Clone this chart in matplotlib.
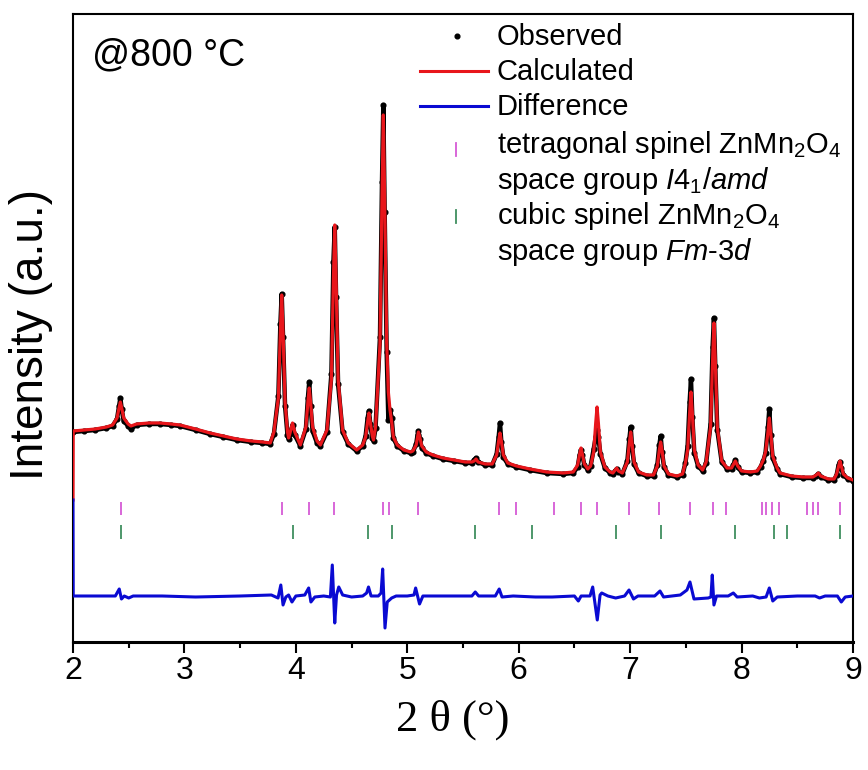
import matplotlib
matplotlib.use('Agg')
import matplotlib.pyplot as plt
from matplotlib.lines import Line2D
from matplotlib.ticker import MultipleLocator

# Rietveld fit of ZnMn2O4 at 800 C (intensity in a.u.)

# calculated profile (2theta, intensity)
calc_pts = [
    (2.000, 142), (2.002, 211), (2.10, 212), (2.20, 213), (2.30, 215), (2.355, 217),
    (2.395, 224), (2.413, 234), (2.425, 240), (2.437, 234), (2.455, 224), (2.495, 218),
    (2.52, 216), (2.57, 218), (2.68, 219), (2.78, 219), (2.88, 218), (2.96, 217),
    (3.10, 213), (3.23, 209), (3.35, 206), (3.47, 203), (3.60, 201), (3.70, 200), (3.77, 199),
    (3.803, 210), (3.843, 244), (3.861, 310), (3.873, 347), (3.885, 310), (3.903, 240),
    (3.925, 210), (3.935, 204), (3.95, 210), (3.97, 219), (3.99, 210), (4.04, 197),
    (4.09, 215), (4.108, 240), (4.12, 254), (4.132, 240), (4.15, 215), (4.19, 201), (4.22, 197),
    (4.279, 212), (4.319, 263), (4.337, 362), (4.349, 417), (4.361, 362), (4.379, 263),
    (4.419, 212), (4.47, 199), (4.546, 192),
    (4.60, 197), (4.626, 205), (4.644, 220), (4.656, 229), (4.668, 220), (4.686, 206), (4.697, 202),
    (4.715, 215), (4.755, 298), (4.773, 445), (4.785, 527), (4.797, 445), (4.815, 300),
    (4.83, 250), (4.845, 232), (4.86, 220), (4.875, 205), (4.91, 197), (4.97, 192), (5.03, 190),
    (5.05, 191), (5.08, 197), (5.092, 205), (5.10, 210), (5.112, 205), (5.13, 196), (5.17, 190),
    (5.23, 187), (5.32, 184), (5.42, 182), (5.52, 180), (5.58, 180),
    (5.60, 181), (5.617, 183), (5.635, 180), (5.70, 178), (5.762, 178),
    (5.802, 187), (5.82, 201), (5.832, 209), (5.844, 201), (5.862, 187), (5.902, 179),
    (5.98, 176), (6.10, 173), (6.25, 170), (6.40, 169), (6.489, 170),
    (6.529, 177), (6.547, 188), (6.559, 194), (6.571, 188), (6.589, 178), (6.62, 173),
    (6.645, 176), (6.673, 190), (6.691, 219), (6.703, 235), (6.715, 219), (6.733, 190),
    (6.773, 175), (6.82, 170),
    (6.845, 169), (6.865, 172), (6.879, 174), (6.895, 171), (6.93, 169),
    (6.975, 180), (6.993, 199), (7.005, 210), (7.017, 199), (7.035, 180), (7.075, 170),
    (7.15, 167), (7.21, 167),
    (7.244, 176), (7.262, 192), (7.274, 200), (7.286, 192), (7.304, 176), (7.344, 168),
    (7.42, 166), (7.47, 168), (7.496, 179),
    (7.516, 192), (7.534, 229), (7.546, 250), (7.558, 229), (7.576, 192), (7.61, 177), (7.65, 172),
    (7.682, 180), (7.722, 215), (7.74, 282), (7.752, 319), (7.764, 282), (7.782, 215),
    (7.822, 181), (7.87, 174), (7.91, 174),
    (7.925, 177), (7.944, 181), (7.965, 176), (8.00, 171), (8.08, 170), (8.14, 171),
    (8.17, 176), (8.195, 182), (8.215, 190), (8.237, 210), (8.249, 224), (8.261, 210),
    (8.279, 186), (8.319, 174), (8.345, 169),
    (8.45, 166), (8.55, 165), (8.64, 165), (8.67, 167), (8.689, 169), (8.71, 166), (8.78, 163), (8.83, 163),
    (8.853, 168), (8.871, 176), (8.883, 181), (8.895, 176), (8.913, 168), (8.953, 164), (9.00, 162),
]

# observed points
obs_pts = [
    (2.002, 210), (2.10, 211), (2.20, 212), (2.30, 214), (2.355, 216),
    (2.395, 223), (2.413, 236), (2.425, 244), (2.437, 233), (2.455, 221), (2.495, 216),
    (2.52, 213), (2.57, 217), (2.68, 218), (2.78, 218), (2.88, 217), (2.96, 216),
    (3.10, 212), (3.23, 208), (3.35, 205), (3.47, 202), (3.60, 200), (3.70, 199), (3.77, 198),
    (3.803, 208), (3.843, 246), (3.861, 318), (3.873, 348), (3.885, 305), (3.903, 236),
    (3.925, 207), (3.935, 203), (3.95, 208), (3.97, 217), (3.99, 207), (4.04, 196),
    (4.09, 213), (4.108, 244), (4.12, 260), (4.132, 236), (4.15, 211), (4.19, 199), (4.22, 196),
    (4.279, 210), (4.319, 268), (4.337, 380), (4.349, 415), (4.361, 345), (4.379, 258),
    (4.419, 210), (4.47, 198), (4.546, 191),
    (4.60, 196), (4.626, 206), (4.644, 224), (4.656, 231), (4.668, 218), (4.686, 204), (4.697, 201),
    (4.715, 214), (4.755, 305), (4.773, 460), (4.785, 537), (4.797, 430), (4.815, 290),
    (4.83, 222), (4.845, 232), (4.86, 224), (4.875, 204), (4.91, 196), (4.97, 191), (5.03, 189),
    (5.05, 190), (5.08, 198), (5.092, 207), (5.10, 211), (5.112, 203), (5.13, 194), (5.17, 189),
    (5.23, 186), (5.32, 183), (5.42, 181), (5.52, 179), (5.58, 179),
    (5.60, 182), (5.617, 184), (5.635, 180), (5.70, 177), (5.762, 177),
    (5.802, 188), (5.82, 205), (5.832, 219), (5.844, 200), (5.862, 185), (5.902, 178),
    (5.98, 175), (6.10, 172), (6.25, 169), (6.40, 168), (6.489, 169),
    (6.529, 175), (6.547, 187), (6.559, 192), (6.571, 187), (6.589, 177), (6.62, 172),
    (6.645, 176), (6.673, 193), (6.691, 205), (6.703, 212), (6.715, 205), (6.733, 188),
    (6.773, 174), (6.82, 169),
    (6.845, 168), (6.865, 171), (6.879, 173), (6.895, 170), (6.93, 168),
    (6.975, 181), (6.993, 203), (7.005, 215), (7.017, 196), (7.035, 178), (7.075, 169),
    (7.15, 166), (7.21, 166),
    (7.244, 177), (7.262, 197), (7.274, 206), (7.286, 190), (7.304, 175), (7.344, 167),
    (7.42, 165), (7.47, 167), (7.496, 179),
    (7.516, 196), (7.534, 240), (7.546, 263), (7.558, 225), (7.576, 189), (7.61, 176), (7.65, 171),
    (7.682, 179), (7.722, 218), (7.74, 295), (7.752, 324), (7.764, 276), (7.782, 212),
    (7.822, 180), (7.87, 173), (7.91, 173),
    (7.925, 177), (7.944, 182), (7.965, 175), (8.00, 170), (8.08, 169), (8.14, 170),
    (8.17, 175), (8.195, 181), (8.215, 189), (8.237, 215), (8.249, 233), (8.261, 207),
    (8.279, 184), (8.319, 173), (8.345, 168),
    (8.45, 165), (8.55, 164), (8.64, 164), (8.67, 166), (8.689, 168), (8.71, 165), (8.78, 162), (8.83, 162),
    (8.853, 167), (8.871, 177), (8.883, 180), (8.895, 174), (8.913, 167), (8.953, 163), (9.00, 161),
]

# difference curve (already offset below the pattern)
diff_pts = [
    (2.000, 142), (2.002, 46), (2.20, 46), (2.38, 46), (2.415, 53), (2.435, 43), (2.46, 46),
    (2.50, 44), (2.54, 46), (2.80, 46), (3.10, 45), (3.50, 46), (3.78, 47), (3.84, 44),
    (3.865, 57), (3.885, 37), (3.91, 45), (3.935, 47), (3.965, 40), (4.00, 46), (4.08, 47),
    (4.115, 54), (4.135, 40), (4.17, 45), (4.25, 46), (4.31, 45), (4.327, 77), (4.349, 19),
    (4.365, 47), (4.385, 55), (4.42, 47), (4.50, 45), (4.60, 46), (4.635, 49), (4.652, 55),
    (4.675, 46), (4.74, 46), (4.765, 49), (4.779, 73), (4.800, 14), (4.82, 40), (4.86, 44),
    (4.90, 46), (5.00, 46), (5.06, 47), (5.075, 54), (5.11, 38), (5.14, 46), (5.40, 46),
    (5.58, 46), (5.61, 50), (5.64, 46), (5.79, 46), (5.825, 53), (5.85, 45), (5.95, 46),
    (6.15, 45), (6.30, 45), (6.50, 46), (6.535, 41), (6.56, 46), (6.64, 46), (6.664, 55),
    (6.705, 22), (6.73, 47), (6.745, 49), (6.80, 46), (6.87, 44), (6.95, 46), (6.99, 52),
    (7.03, 43), (7.07, 46), (7.22, 46), (7.268, 51), (7.30, 45), (7.45, 47), (7.51, 52),
    (7.537, 60), (7.573, 43), (7.70, 44), (7.725, 45), (7.737, 67), (7.752, 37), (7.775, 46),
    (7.88, 46), (7.926, 49), (7.96, 45), (8.10, 46), (8.16, 44), (8.22, 45), (8.249, 54),
    (8.28, 41), (8.32, 45), (8.50, 46), (8.66, 46), (8.70, 44), (8.75, 46), (8.86, 46),
    (8.895, 40), (8.93, 45), (9.00, 46),
]

# Bragg reflection positions
tetragonal_pos = [2.43, 3.88, 4.12, 4.34, 4.78, 4.84, 5.10, 5.82, 5.98, 6.32, 6.56, 6.70,
                  6.99, 7.26, 7.54, 7.74, 7.86, 8.18, 8.22, 8.27, 8.34, 8.59, 8.64, 8.69, 8.88]
cubic_pos = [2.43, 3.97, 4.65, 4.86, 5.61, 6.12, 6.87, 7.28, 7.94, 8.29, 8.41, 8.88]

x_ticks = [2, 3, 4, 5, 6, 7, 8, 9]
x_tick_labels = ['2', '3', '4', '5', '6', '7', '8', '9']

RED = '#e8161b'
BLUE = '#0a0ad2'
MAGENTA = '#d65ad6'
GREEN = '#3f8f5f'

plt.rcParams['font.family'] = ['Liberation Sans', 'DejaVu Sans']
plt.rcParams['mathtext.fontset'] = 'custom'
plt.rcParams['mathtext.rm'] = 'Liberation Sans'
plt.rcParams['mathtext.it'] = 'Liberation Sans:italic'

fig = plt.figure(figsize=(8.68, 7.70), dpi=100)
ax = fig.add_axes([73 / 868, 128 / 770, 780 / 868, 628 / 770])

calc_x, calc_y = zip(*calc_pts)
obs_x, obs_y = zip(*obs_pts)
diff_x, diff_y = zip(*diff_pts)

ax.plot(obs_x, obs_y, color='black', lw=3.2, zorder=2)
ax.plot(obs_x, obs_y, 'o', color='black', ms=3.4, zorder=2)
ax.plot(calc_x, calc_y, color=RED, lw=2.3, zorder=3)
ax.plot(diff_x, diff_y, color=BLUE, lw=2.2, zorder=3)
ax.vlines(tetragonal_pos, 127, 140, color=MAGENTA, lw=1.3)
ax.vlines(cubic_pos, 103, 117, color=GREEN, lw=1.3)

ax.set_xlim(2, 9)
ax.set_ylim(0, 628)
ax.set_yticks([])
ax.set_xticks(x_ticks)
ax.set_xticklabels(x_tick_labels, fontsize=23)
ax.xaxis.set_minor_locator(MultipleLocator(0.5))
ax.tick_params(axis='x', which='major', direction='out', length=8, width=1.5, pad=2)
ax.tick_params(axis='x', which='minor', direction='out', length=4.5, width=1.5)
for sp in ax.spines.values():
    sp.set_linewidth(1.5)
ax.spines['bottom'].set_linewidth(2.2)

ax.set_ylabel('Intensity (a.u.)', fontsize=33)
ax.yaxis.set_label_coords(-0.026, 0.49)
ax.set_xlabel('2 θ (°)', fontsize=32, family=['Liberation Serif', 'DejaVu Serif'])
ax.xaxis.set_label_coords(0.487, -0.092)

# overlay in pixel coordinates for the legend block and the temperature label
ov = fig.add_axes([0, 0, 1, 1])
ov.set_xlim(0, 868)
ov.set_ylim(770, 0)
ov.axis('off')

ov.text(92, 65, '@800 °C', fontsize=27, va='baseline', ha='left')

ov.add_line(Line2D([457], [36], marker='o', ms=3.4, color='black', ls='none'))
ov.add_line(Line2D([420, 488], [70.5, 70.5], color=RED, lw=2.2))
ov.add_line(Line2D([420, 488], [105.5, 105.5], color=BLUE, lw=2.2))
ov.add_line(Line2D([456, 456], [143, 156], color=MAGENTA, lw=1.3))
ov.add_line(Line2D([456, 456], [210, 223], color=GREEN, lw=1.3))

legend_rows = [
    (45, 'Observed'),
    (80, 'Calculated'),
    (115, 'Difference'),
    (153, 'tetragonal spinel ZnMn$_2$O$_4$'),
    (189, 'space group $\\mathit{I}4_1\\mathit{/amd}$'),
    (224, 'cubic spinel ZnMn$_2$O$_4$'),
    (260, 'space group $\\mathit{Fm}$-3$\\mathit{d}$'),
]
for y, label in legend_rows:
    ov.text(497, y, label, fontsize=21, va='baseline', ha='left')

fig.savefig('out.png', dpi=100)
